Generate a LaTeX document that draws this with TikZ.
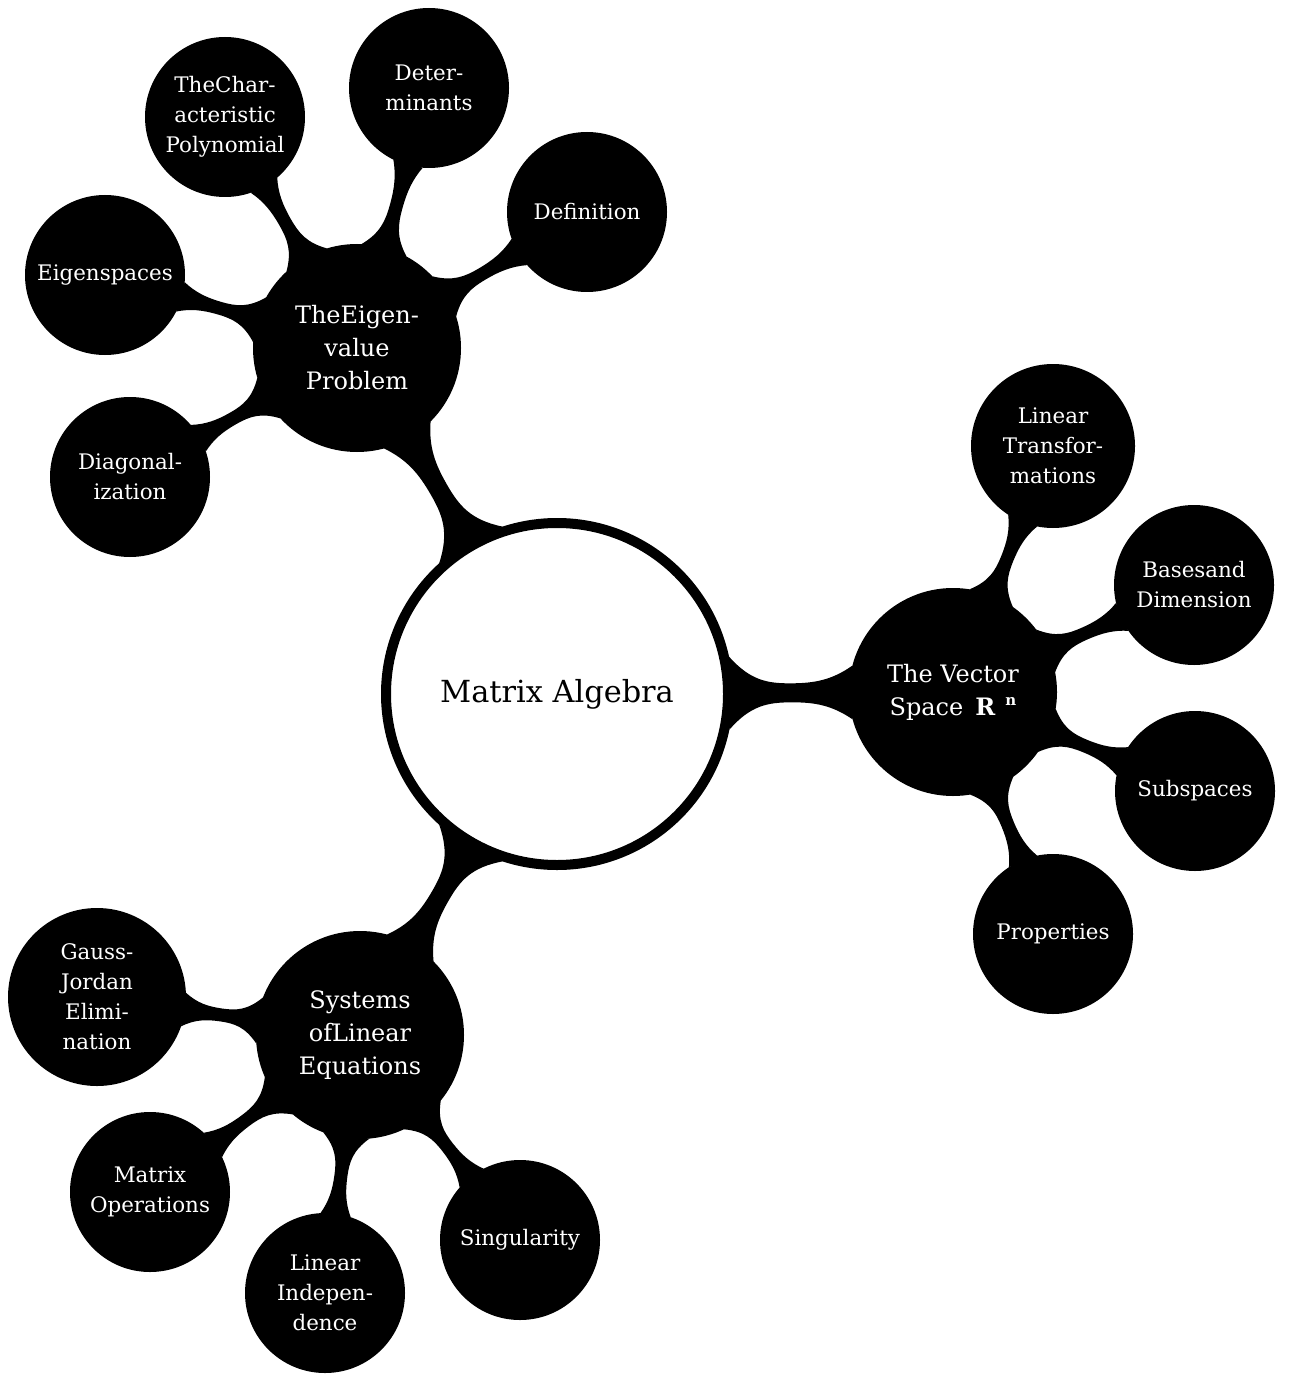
\documentclass[tikz,border=0pt]{standalone}
\usepackage{fontspec}
\setmainfont{DejaVu Serif}
\usetikzlibrary{backgrounds}
\tikzset{
  mmroot/.style={circle, draw=black, line width=5pt, fill=white, minimum size=171pt, inner sep=0pt,
    font=\fontsize{15.2}{18}\selectfont, text=black},
  mmchild/.style={circle, fill=black, minimum size=104pt, inner sep=0pt, align=center, text=white,
    font=\fontsize{12}{16.5}\selectfont},
  mmleaf/.style={circle, fill=black, minimum size=80pt, inner sep=0pt, align=center, text=white,
    font=\fontsize{10.7}{15}\selectfont},
  mmbar/.style={fill=black},
}
% #1 from node, #2 to node, #3 radius of #1, #4 radius of #2, #5 half width, #6/#7 flare angles
\newcommand\mmconn[7]{%
  \pgfpointdiff{\pgfpointanchor{#1}{center}}{\pgfpointanchor{#2}{center}}%
  \pgfgetlastxy{\mmdx}{\mmdy}%
  \pgfmathsetmacro\mmang{atan2(\mmdy,\mmdx)}%
  \pgfmathsetmacro\mmL{veclen(\mmdx,\mmdy)*2}%
  \pgfmathsetmacro\mmg{\mmL-#3-#4}%
  \pgfmathsetmacro\mmm{#3+0.5*\mmg}%
  \path[mmbar,shift={(#1.center)},rotate=\mmang]
    (#6:#3)
    .. controls ({#3+0.15*\mmg},{1.3*#5}) and ({#3+0.3*\mmg},{#5}) .. ({\mmm},{#5})
    .. controls ({\mmL-#4-0.3*\mmg},{#5}) and ({\mmL-#4-0.15*\mmg},{1.3*#5}) .. ({\mmL-#4*cos(#7)},{#4*sin(#7)})
    -- ({\mmL-#4*cos(#7)},{-#4*sin(#7)})
    .. controls ({\mmL-#4-0.15*\mmg},{-1.3*#5}) and ({\mmL-#4-0.3*\mmg},{-#5}) .. ({\mmm},{-#5})
    .. controls ({#3+0.3*\mmg},{-#5}) and ({#3+0.15*\mmg},{-1.3*#5}) .. (-#6:#3)
    -- cycle;
}
\begin{document}
\begin{tikzpicture}[x=0.5pt,y=0.5pt]
\useasboundingbox (0,0) rectangle (1290,-1374);
% root
\node[mmroot] (root) at (557,-694) {Matrix Algebra};
% children
\node[mmchild] (eig) at (357,-348) {TheEigen-\\value\\Problem};
\node[mmchild] (vs) at (953,-692) {The Vector\\Space\hspace{6pt}\textbf{R}\hspace{5pt}\raisebox{0.75ex}{\fontsize{7.5}{8}\selectfont\textbf{n}}};
\node[mmchild] (sys) at (360,-1035) {Systems\\ofLinear\\Equations};
% leaves of eig
\node[mmleaf] (def) at (587,-212) {Definition};
\node[mmleaf] (det) at (429,-88) {Deter-\\minants};
\node[mmleaf] (chr) at (225,-117) {TheChar-\\acteristic\\Polynomial};
\node[mmleaf] (esp) at (105,-275) {Eigenspaces};
\node[mmleaf] (dia) at (130,-477) {Diagonal-\\ization};
% leaves of vs
\node[mmleaf, minimum size=82pt] (lt) at (1053,-446) {Linear\\Transfor-\\mations};
\node[mmleaf] (bas) at (1194,-585) {Basesand\\Dimension};
\node[mmleaf] (sub) at (1195,-791) {Subspaces};
\node[mmleaf] (pro) at (1053,-934) {Properties};
% leaves of sys
\node[mmleaf, minimum size=89pt] (gau) at (97,-997) {Gauss-\\Jordan\\Elimi-\\nation};
\node[mmleaf] (mop) at (150,-1192) {Matrix\\Operations};
\node[mmleaf] (lin) at (325,-1293) {Linear\\Indepen-\\dence};
\node[mmleaf] (sin) at (520,-1240) {Singularity};
\begin{pgfonlayer}{background}
\fill[white] (0,0) rectangle (1290,-1374);
\mmconn{root}{eig}{176}{104}{9.5}{12}{15}
\mmconn{root}{vs}{176}{104}{9.5}{12}{15}
\mmconn{root}{sys}{176}{104}{9.5}{12}{15}
\mmconn{eig}{def}{104}{80}{6.5}{13}{11}
\mmconn{eig}{det}{104}{80}{6.5}{13}{11}
\mmconn{eig}{chr}{104}{80}{6.5}{13}{11}
\mmconn{eig}{esp}{104}{80}{6.5}{13}{11}
\mmconn{eig}{dia}{104}{80}{6.5}{13}{11}
\mmconn{vs}{lt}{104}{82}{6.5}{13}{11}
\mmconn{vs}{bas}{104}{80}{6.5}{13}{11}
\mmconn{vs}{sub}{104}{80}{6.5}{13}{11}
\mmconn{vs}{pro}{104}{80}{6.5}{13}{11}
\mmconn{sys}{gau}{104}{89}{6.5}{13}{11}
\mmconn{sys}{mop}{104}{80}{6.5}{13}{11}
\mmconn{sys}{lin}{104}{80}{6.5}{13}{11}
\mmconn{sys}{sin}{104}{80}{6.5}{13}{11}
\end{pgfonlayer}
\end{tikzpicture}
\end{document}
